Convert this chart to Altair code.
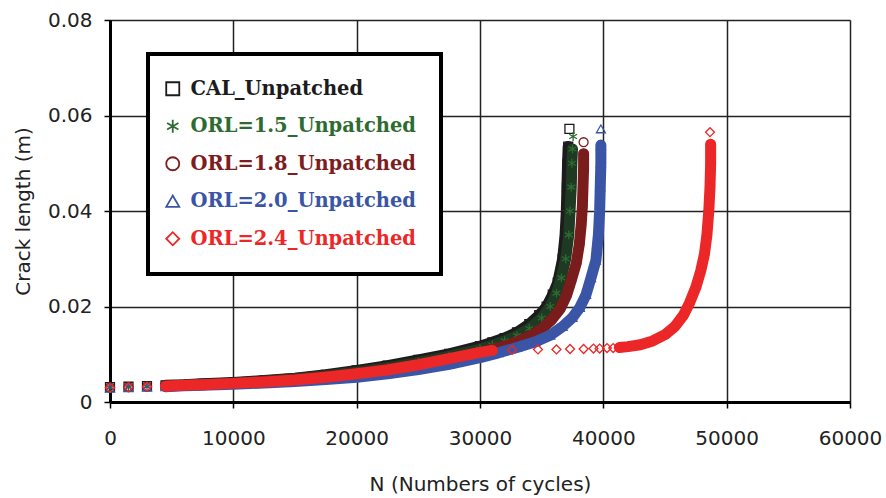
import altair as alt
import pandas as pd

series_names = ["CAL_Unpatched", "ORL=1.5_Unpatched", "ORL=1.8_Unpatched",
                "ORL=2.0_Unpatched", "ORL=2.4_Unpatched"]
marker_colors = ["#1c1c1c", "#2e6b30", "#7d1d1d", "#3a55a6", "#ec2727"]
band_colors = ["#1c1c1c", "#1f3a22", "#7a1c1c", "#3a55a6", "#ec2727"]
asterisk = "M0,-1L0,1M-0.87,-0.5L0.87,0.5M-0.87,0.5L0.87,-0.5"
marker_shapes = ["square", asterisk, "circle", "triangle-up", "diamond"]

cal_n = [0, 1500, 3000, 4500, 6000, 7500, 10000, 12500, 15000, 17500, 20000, 22500,
         25000, 27500, 30000, 31000, 32000, 33000, 34000, 34800, 35400, 35900, 36300,
         36700, 36900, 37000, 37050, 37100, 37150, 37250]
cal_a = [0.0031, 0.0032, 0.0033, 0.0035, 0.0036, 0.0038, 0.0041, 0.0045, 0.0050, 0.0057,
         0.0066, 0.0076, 0.0088, 0.0101, 0.0117, 0.0125, 0.0134, 0.0146, 0.0163, 0.0182,
         0.0200, 0.0225, 0.0250, 0.0300, 0.0350, 0.0400, 0.0450, 0.0500, 0.0535, 0.0572]

o15_n = [0, 1500, 3000, 4500, 6000, 7500, 10000, 12500, 15000, 17500, 20000, 22500,
         25000, 27500, 30000, 31000, 32000, 33000, 34000, 35000, 35700, 36200, 36600,
         36950, 37200, 37300, 37400, 37450, 37500, 37550]
o15_a = [0.0030, 0.0031, 0.0032, 0.0034, 0.0035, 0.0037, 0.0040, 0.0044, 0.0049, 0.0055,
         0.0063, 0.0072, 0.0083, 0.0096, 0.0111, 0.0119, 0.0128, 0.0139, 0.0154, 0.0176,
         0.0200, 0.0228, 0.0260, 0.0300, 0.0350, 0.0400, 0.0450, 0.0500, 0.0530, 0.0556]

o18_n = [0, 1500, 3000, 4500, 6000, 7500, 10000, 12500, 15000, 17500, 20000, 22500,
         25000, 27500, 30000, 31000, 32000, 33000, 34000, 35000, 35800, 36500, 37000,
         37400, 37800, 38050, 38200, 38300, 38350, 38400, 38400, 38400]
o18_a = [0.0030, 0.0031, 0.0032, 0.0034, 0.0035, 0.0036, 0.0039, 0.0043, 0.0047, 0.0053,
         0.0060, 0.0068, 0.0078, 0.0090, 0.0103, 0.0110, 0.0117, 0.0126, 0.0137, 0.0153,
         0.0172, 0.0195, 0.0222, 0.0255, 0.0290, 0.0330, 0.0370, 0.0410, 0.0450, 0.0490,
         0.0520, 0.0544]

o20_n = [0, 1500, 3000, 4500, 6000, 7500, 10000, 12500, 15000, 17500, 20000, 22500,
         25000, 27500, 30000, 31500, 33000, 34500, 35700, 36700, 37500, 38100, 38600,
         39000, 39400, 39600, 39700, 39750, 39800, 39800, 39800]
o20_a = [0.0029, 0.0030, 0.0031, 0.0032, 0.0034, 0.0035, 0.0037, 0.0040, 0.0043, 0.0047,
         0.0052, 0.0059, 0.0068, 0.0079, 0.0093, 0.0103, 0.0114, 0.0126, 0.0140, 0.0158,
         0.0177, 0.0198, 0.0225, 0.0260, 0.0297, 0.0350, 0.0400, 0.0450, 0.0500, 0.0538,
         0.0572]

o24_n = [0, 1500, 3000, 4500, 6000, 7500, 10000, 12500, 15000, 17500, 20000, 22500,
         25000, 27500, 30000, 31000, 32600, 34700, 36200, 37300, 38400, 39200, 39700,
         40300, 40800, 41300, 42000, 43000, 44000, 45000, 45800, 46500, 47000, 47500,
         47900, 48200, 48400, 48550, 48650, 48700, 48700, 48650]
o24_a = [0.0030, 0.0031, 0.0032, 0.0033, 0.0035, 0.0036, 0.0039, 0.0042, 0.0046, 0.0052,
         0.0059, 0.0067, 0.0078, 0.0091, 0.0104, 0.0108, 0.0109, 0.0110, 0.0110, 0.0111,
         0.0111, 0.0112, 0.0112, 0.0113, 0.0113, 0.0114, 0.0116, 0.0120, 0.0128, 0.0141,
         0.0158, 0.0182, 0.0208, 0.0240, 0.0275, 0.0310, 0.0350, 0.0400, 0.0450, 0.0500,
         0.0540, 0.0565]

x_ticks = [0, 10000, 20000, 30000, 40000, 50000, 60000]
y_ticks = [0, 0.02, 0.04, 0.06, 0.08]

all_n = [cal_n, o15_n, o18_n, o20_n, o24_n]
all_a = [cal_a, o15_a, o18_a, o20_a, o24_a]

rows = []
for name, ns, As in zip(series_names, all_n, all_a):
    for i, (n, a) in enumerate(zip(ns, As)):
        rows.append({"series": name, "N": n, "a": a, "idx": i})
df = pd.DataFrame(rows)

x_enc = alt.X("N:Q", scale=alt.Scale(domain=[0, 60000], nice=False),
              axis=alt.Axis(values=x_ticks, format="d", title="N (Numbers of cycles)",
                            labelPadding=20, titlePadding=26, labelFlush=False))
y_enc = alt.Y("a:Q", scale=alt.Scale(domain=[0, 0.08], nice=False),
              axis=alt.Axis(values=y_ticks, title="Crack length (m)",
                            labelExpr="datum.value == 0 ? '0' : format(datum.value, '.2f')",
                            labelPadding=12, titlePadding=14))

label_color_expr = " : ".join(
    [f"datum.label == '{n}' ? '{c}'" for n, c in zip(series_names[:-1], marker_colors[:-1])]
) + f" : '{marker_colors[-1]}'"

color_enc = alt.Color("series:N",
                      scale=alt.Scale(domain=series_names, range=marker_colors),
                      legend=alt.Legend(title=None, orient="none", legendX=38, legendY=34,
                                        labelFont="DejaVu Serif", labelFontWeight="bold",
                                        labelFontSize=19.5, labelColor={"expr": label_color_expr},
                                        symbolSize=170, symbolStrokeWidth=1.8,
                                        symbolFillColor="transparent", symbolOffset=-10,
                                        rowPadding=16.5, labelOffset=8, padding=25,
                                        strokeColor="black", fillColor="white",
                                        labelLimit=400))
shape_enc = alt.Shape("series:N", scale=alt.Scale(domain=series_names, range=marker_shapes),
                      legend=None)

base = alt.Chart(df)
layers = []
for k, name in enumerate(series_names):
    if name == "ORL=2.4_Unpatched":
        filt = f"datum.series == '{name}' && datum.N >= 4000 && datum.a < 0.0542 && (datum.N < 31500 || datum.N > 41000)"
        seg_expr = "datum.N < 31500 ? 'a' : 'b'"
    else:
        filt = f"datum.series == '{name}' && datum.N >= 4000 && datum.a < 0.0542"
        seg_expr = "'a'"
    line = base.transform_filter(filt).transform_calculate(
        seg=seg_expr
    ).mark_line(
        strokeWidth=11, strokeJoin="round", strokeCap="round"
    ).encode(x=x_enc, y=y_enc, order="idx:Q", detail="seg:N",
             color=alt.value(band_colors[k]))
    pts = base.transform_filter(f"datum.series == '{name}'").mark_point(
        filled=False, size=80, strokeWidth=1.3, opacity=1
    ).encode(x=x_enc, y=y_enc, color=color_enc, shape=shape_enc)
    layers += [line, pts]

chart = alt.layer(*layers).properties(
    width=740, height=382,
    autosize=alt.AutoSizeParams(type="none"),
    padding={"left": 110, "top": 20, "right": 36, "bottom": 96},
    background="white",
).configure_axis(
    labelFont="DejaVu Sans", labelFontSize=20, labelColor="#222",
    titleFont="DejaVu Sans", titleFontSize=20, titleFontWeight="normal", titleColor="#222",
    domainColor="black", domainWidth=3, tickColor="black", tickWidth=1.5, tickSize=6,
    gridColor="#222", gridWidth=1.5, gridOpacity=1,
).configure_legend(
    strokeWidth=4
).configure_view(strokeWidth=0)

chart.save("out.html", embed_options={"renderer": "svg", "actions": False})
